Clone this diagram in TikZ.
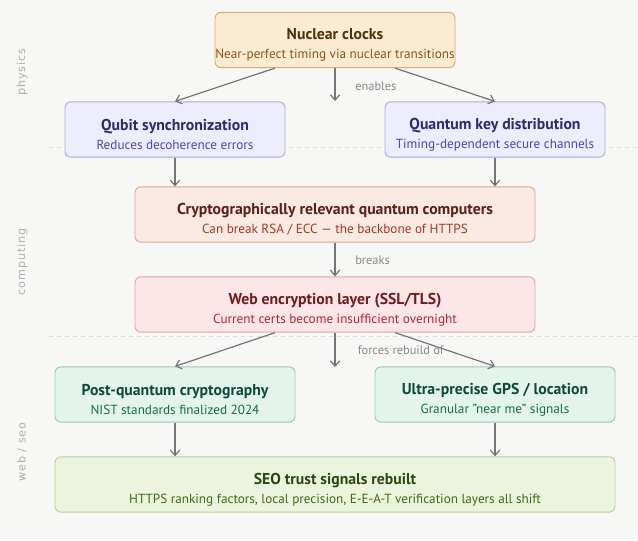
\documentclass[tikz,border=0pt]{standalone}
\usepackage{fontspec}
\setmainfont{PT Sans}
\newfontfamily\sidefont[LetterSpace=8]{DejaVu Sans}
\usetikzlibrary{arrows.meta}
\definecolor{bgc}{HTML}{F7F7F5}
\definecolor{arrc}{HTML}{757575}
\definecolor{lblc}{HTML}{8A8A8A}
\definecolor{sidec}{HTML}{B0B0B0}
\definecolor{sepc}{HTML}{DCDCDC}
\definecolor{orF}{HTML}{FCEBD3}\definecolor{orD}{HTML}{D9AB6E}\definecolor{orT}{HTML}{4A3312}\definecolor{orS}{HTML}{8A5516}
\definecolor{lvF}{HTML}{EEEDFD}\definecolor{lvD}{HTML}{ABA8E8}\definecolor{lvT}{HTML}{2D2A6E}\definecolor{lvS}{HTML}{4C45B0}
\definecolor{crF}{HTML}{FBE9E4}\definecolor{crD}{HTML}{DDA798}\definecolor{crT}{HTML}{5C1F12}\definecolor{crS}{HTML}{A03B22}
\definecolor{rdF}{HTML}{FCE6E7}\definecolor{rdD}{HTML}{E2A3A9}\definecolor{rdT}{HTML}{6E1B22}\definecolor{rdS}{HTML}{B3263A}
\definecolor{gnF}{HTML}{E2F4EC}\definecolor{gnD}{HTML}{92CEB6}\definecolor{gnT}{HTML}{0F4A36}\definecolor{gnS}{HTML}{156B4D}
\definecolor{seF}{HTML}{EDF4DE}\definecolor{seD}{HTML}{B6D497}\definecolor{seT}{HTML}{2C4712}\definecolor{seS}{HTML}{3F6A15}
\tikzset{
  box/.style={draw, rounded corners=4.5pt, line width=0.7pt, inner sep=0pt, align=center, minimum height=41.5pt},
  arr/.style={draw=arrc, line width=0.9pt, -{Straight Barb[length=4pt,width=7pt,line width=0.9pt]}},
  elabel/.style={text=lblc, font=\fontsize{9.3pt}{11pt}\selectfont, anchor=west, inner sep=0pt},
  side/.style={text=sidec, font=\sidefont\fontsize{8.4pt}{10pt}\selectfont, rotate=90, inner sep=0pt},
  sep/.style={draw=sepc, line width=0.6pt, dash pattern=on 3pt off 3pt}
}
\newcommand{\bx}[4]{\rule{0pt}{16pt}{\color{#1}\fontsize{11.8pt}{13pt}\selectfont\bfseries #2}\\[2.5pt]{\color{#3}\fontsize{9.9pt}{11pt}\selectfont #4}}
\begin{document}
\begin{tikzpicture}[x=0.75pt,y=-0.75pt]
\fill[bgc] (0,0) rectangle (638,540);
\useasboundingbox (0,0) rectangle (638,540);
\draw[sep] (49,147) -- (638,147);
\draw[sep] (49,336) -- (638,336);
\node[side] (s1) at (22,72) {physics};
\node[side] (s2) at (22,262) {computing};
\node[side] (s3) at (22,452) {web / seo};

\node[box, fill=orF, draw=orD, minimum width=180pt] (nc) at (335,40) {\bx{orT}{Nuclear clocks}{orS}{Near-perfect timing via nuclear transitions}};
\node[box, fill=lvF, draw=lvD, minimum width=165pt] (qs) at (175,129.5) {\bx{lvT}{Qubit synchronization}{lvS}{Reduces decoherence errors}};
\node[box, fill=lvF, draw=lvD, minimum width=165pt] (qk) at (495,129.5) {\bx{lvT}{Quantum key distribution}{lvS}{Timing-dependent secure channels}};
\node[box, fill=crF, draw=crD, minimum width=300pt] (cq) at (335,214.5) {\bx{crT}{Cryptographically relevant quantum computers}{crS}{Can break RSA / ECC — the backbone of HTTPS}};
\node[box, fill=rdF, draw=rdD, minimum width=300pt] (we) at (335,304.5) {\bx{rdT}{Web encryption layer (SSL/TLS)}{rdS}{Current certs become insufficient overnight}};
\node[box, fill=gnF, draw=gnD, minimum width=180pt] (pq) at (175,394.5) {\bx{gnT}{Post-quantum cryptography}{gnS}{NIST standards finalized 2024}};
\node[box, fill=gnF, draw=gnD, minimum width=180pt] (gp) at (495,394.5) {\bx{gnT}{Ultra-precise GPS / location}{gnS}{Granular "near me" signals}};
\node[box, fill=seF, draw=seD, minimum width=420pt] (se) at (335,484.5) {\bx{seT}{SEO trust signals rebuilt}{seS}{HTTPS ranking factors, local precision, E-E-A-T verification layers all shift}};

\coordinate (m1) at (335,101);
\coordinate (m2) at (335,367);
\draw[arr] ([xshift=-45pt]nc.south) -- (qs.north);
\draw[arr] (nc.south) -- (m1);
\draw[arr] ([xshift=45pt]nc.south) -- (qk.north);
\node[elabel] (l1) at (355,86) {enables};
\draw[arr] (qs.south) -- (qs.south |- cq.north);
\draw[arr] (qk.south) -- (qk.south |- cq.north);
\draw[arr] (cq.south) -- (we.north);
\node[elabel] (l2) at (355,260.5) {breaks};
\draw[arr] ([xshift=-45pt]we.south) -- (pq.north);
\draw[arr] (we.south) -- (m2);
\draw[arr] ([xshift=45pt]we.south) -- (gp.north);
\node[elabel] (l3) at (357.5,350.5) {forces rebuild of};
\draw[arr] (pq.south) -- (pq.south |- se.north);
\draw[arr] (gp.south) -- (gp.south |- se.north);
\end{tikzpicture}
\end{document}
